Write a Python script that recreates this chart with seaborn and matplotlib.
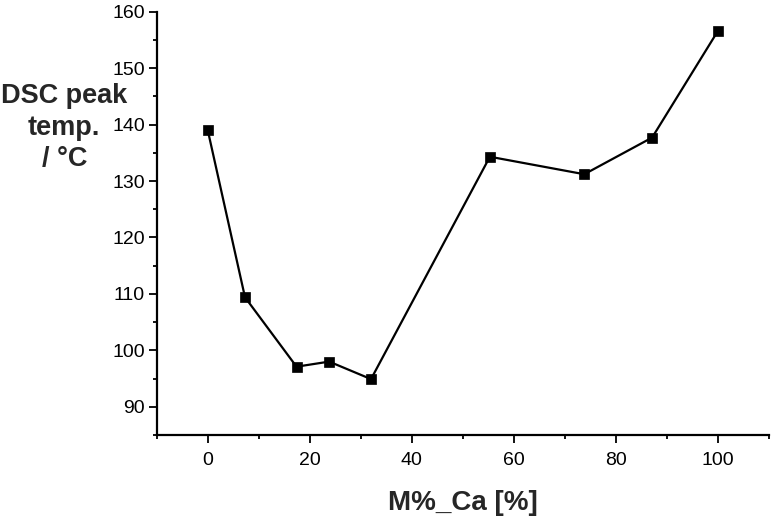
import matplotlib
matplotlib.use("Agg")
import matplotlib.pyplot as plt
from matplotlib.ticker import MultipleLocator
import seaborn as sns

# values
ca_pct = [0, 7.3, 17.4, 23.8, 32.0, 55.3, 73.8, 87.1, 100]
dsc_peak = [139.0, 109.4, 97.1, 98.0, 94.9, 134.3, 131.2, 137.7, 156.6]
ylabel_lines = ['DSC peak', 'temp.', '/ °C']

sns.set_theme(style="ticks")
plt.rcParams['font.family'] = ['Liberation Sans', 'DejaVu Sans']

fig = plt.figure(figsize=(7.74, 5.2), dpi=100)
ax = fig.add_axes([0.2025, 0.1635, 0.791, 0.814])

sns.lineplot(x=ca_pct, y=dsc_peak, ax=ax, color='black', linewidth=1.6,
             marker='s', markersize=7.5, markeredgecolor='black', markeredgewidth=0.5)

ax.set_xlim(-10, 110)
ax.set_ylim(85, 160)
ax.xaxis.set_major_locator(MultipleLocator(20))
ax.xaxis.set_minor_locator(MultipleLocator(10))
ax.yaxis.set_major_locator(MultipleLocator(10))
ax.yaxis.set_minor_locator(MultipleLocator(5))

sns.despine(ax=ax)
for side in ['left', 'bottom']:
    ax.spines[side].set_linewidth(1.6)
    ax.spines[side].set_color('black')

ax.tick_params(which='major', direction='out', length=5.5, width=1.3,
               labelsize=14, color='black', labelcolor='black')
ax.tick_params(axis='x', which='major', pad=7)
ax.tick_params(axis='y', which='major', pad=3)
ax.tick_params(which='minor', direction='out', length=3, width=1.3, color='black')

ax.set_xlabel('M%_Ca [%]', fontsize=20, fontweight='bold', labelpad=15)
ax.set_ylabel('')

# multi-line y label, one text per line (centred like the original)
for line, yb in zip(ylabel_lines, [0.802, 0.740, 0.681]):
    fig.text(0.083, yb, line, fontsize=19.5, fontweight='bold',
             ha='center', va='baseline')

fig.savefig('out.png', dpi=100)
